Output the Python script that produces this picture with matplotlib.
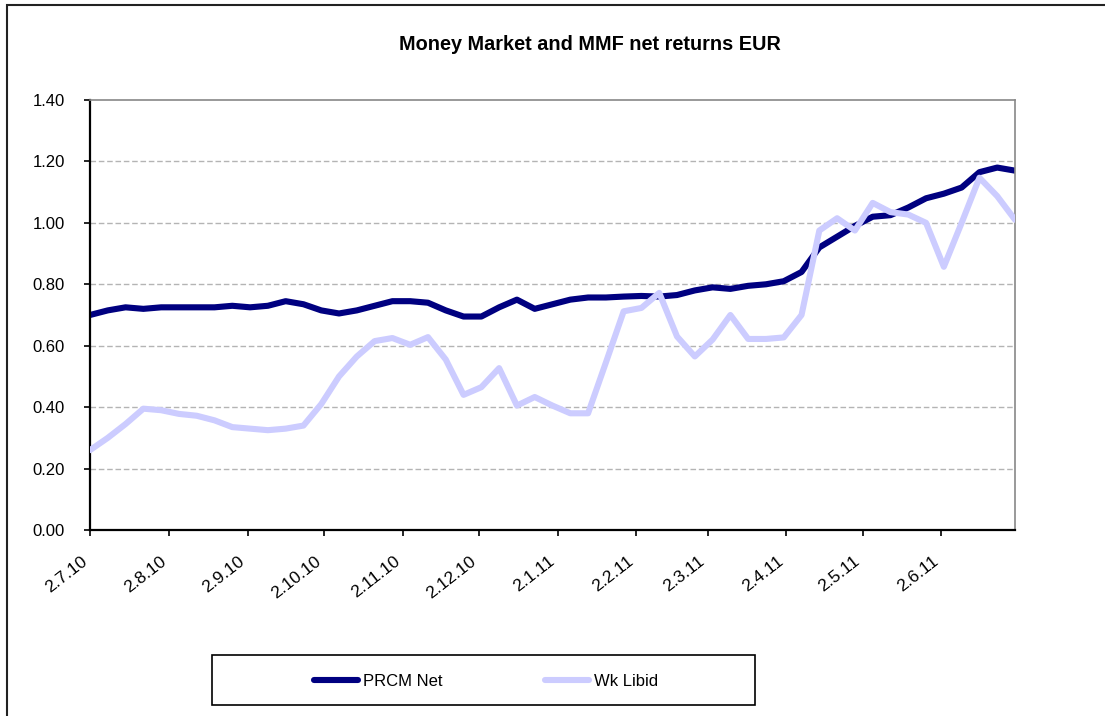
import numpy as np, pandas as pd
import matplotlib
matplotlib.use('Agg')
import matplotlib.pyplot as plt
from matplotlib.patches import Rectangle
from matplotlib.lines import Line2D

plt.rcParams['font.family'] = ['Liberation Sans', 'DejaVu Sans']

# ── Data ─────────────────────────────────────────────────────────────────────
start_date = '2010-07-02'   # weekly observations
prcm_net = [0.700, 0.715, 0.725, 0.720, 0.725, 0.725, 0.725, 0.725, 0.730, 0.725,
            0.730, 0.745, 0.735, 0.715, 0.705, 0.715, 0.730, 0.745, 0.745, 0.740,
            0.715, 0.695, 0.695, 0.725, 0.750, 0.720, 0.735, 0.750, 0.757, 0.757,
            0.760, 0.762, 0.760, 0.765, 0.780, 0.790, 0.785, 0.795, 0.800, 0.810,
            0.840, 0.920, 0.955, 0.990, 1.020, 1.025, 1.050, 1.080, 1.095, 1.115,
            1.165, 1.180, 1.170]
wk_libid = [0.260, 0.300, 0.345, 0.395, 0.390, 0.378, 0.372, 0.357, 0.335, 0.330,
            0.325, 0.330, 0.340, 0.410, 0.500, 0.565, 0.615, 0.625, 0.603, 0.628,
            0.555, 0.440, 0.465, 0.527, 0.405, 0.433, 0.405, 0.380, 0.380, 0.545,
            0.712, 0.723, 0.772, 0.630, 0.565, 0.620, 0.700, 0.622, 0.622, 0.627,
            0.700, 0.975, 1.015, 0.975, 1.065, 1.035, 1.027, 1.000, 0.857, 1.000,
            1.147, 1.087, 1.010]
tick_labels = ['2.7.10', '2.8.10', '2.9.10', '2.10.10', '2.11.10', '2.12.10',
               '2.1.11', '2.2.11', '2.3.11', '2.4.11', '2.5.11', '2.6.11']
y_ticks = [0.0, 0.2, 0.4, 0.6, 0.8, 1.0, 1.2, 1.4]

dates = pd.date_range(start_date, periods=len(prcm_net), freq='7D')
tick_dates = pd.to_datetime(tick_labels, format='%d.%m.%y')

# ── Figure ────────────────────────────────────────────────────────────────────
W, H = 1105, 716
fig = plt.figure(figsize=(W / 100, H / 100), dpi=100)
ax = fig.add_axes([90 / W, 1 - 530 / H, (1015 - 90) / W, (530 - 100) / H])

# outer chart border (cropped at right/bottom)
fig.patches.append(Rectangle((7 / W, -0.1), 1.2, 1 - 5 / H + 0.1, transform=fig.transFigure,
                             fill=False, edgecolor='#222222', linewidth=1.5))

for y in y_ticks[1:-1]:
    ax.axhline(y, color='#b4b4b4', linewidth=1, dashes=(4, 2), zorder=0)

ax.plot(dates, prcm_net, color='#000080', linewidth=4.4, solid_capstyle='round',
        solid_joinstyle='round', zorder=2)
ax.plot(dates, wk_libid, color='#ccccff', linewidth=4.4, solid_capstyle='round',
        solid_joinstyle='round', zorder=3)

ax.set_xlim(dates[0], dates[-1])
ax.set_ylim(0, 1.4)
ax.set_yticks(y_ticks)
ax.set_yticklabels([f'{v:.2f}' for v in y_ticks], fontsize=12)
ax.set_xticks(tick_dates)
ax.set_xticklabels(tick_labels, fontsize=12.5, rotation=38, ha='right', va='top')
ax.tick_params(axis='both', direction='out', length=4, width=1.2, color='black')
ax.tick_params(axis='y', pad=14)
ax.tick_params(axis='x', pad=13)

for s in ('left', 'bottom'):
    ax.spines[s].set_color('black'); ax.spines[s].set_linewidth(1.6)
for s in ('top', 'right'):
    ax.spines[s].set_color('#888888'); ax.spines[s].set_linewidth(1.2)

fig.text(590 / W, 1 - 44 / H, 'Money Market and MMF net returns EUR',
         fontsize=14.3, fontweight='bold', ha='center', va='center')

# legend box
fig.patches.append(Rectangle((212 / W, 1 - 705 / H), 543 / W, 50 / H,
                             transform=fig.transFigure, fill=False,
                             edgecolor='black', linewidth=1.2))
handles = [Line2D([], [], color='#000080', linewidth=4.4, solid_capstyle='round'),
           Line2D([], [], color='#ccccff', linewidth=4.4, solid_capstyle='round')]
fig.legend(handles, ['PRCM Net', 'Wk Libid'], loc='center',
           bbox_to_anchor=(486 / W, 1 - 681 / H), ncol=2, frameon=False,
           fontsize=12, handlelength=2.6, handletextpad=0.3, columnspacing=6.2)

fig.savefig('out.png', dpi=100)
